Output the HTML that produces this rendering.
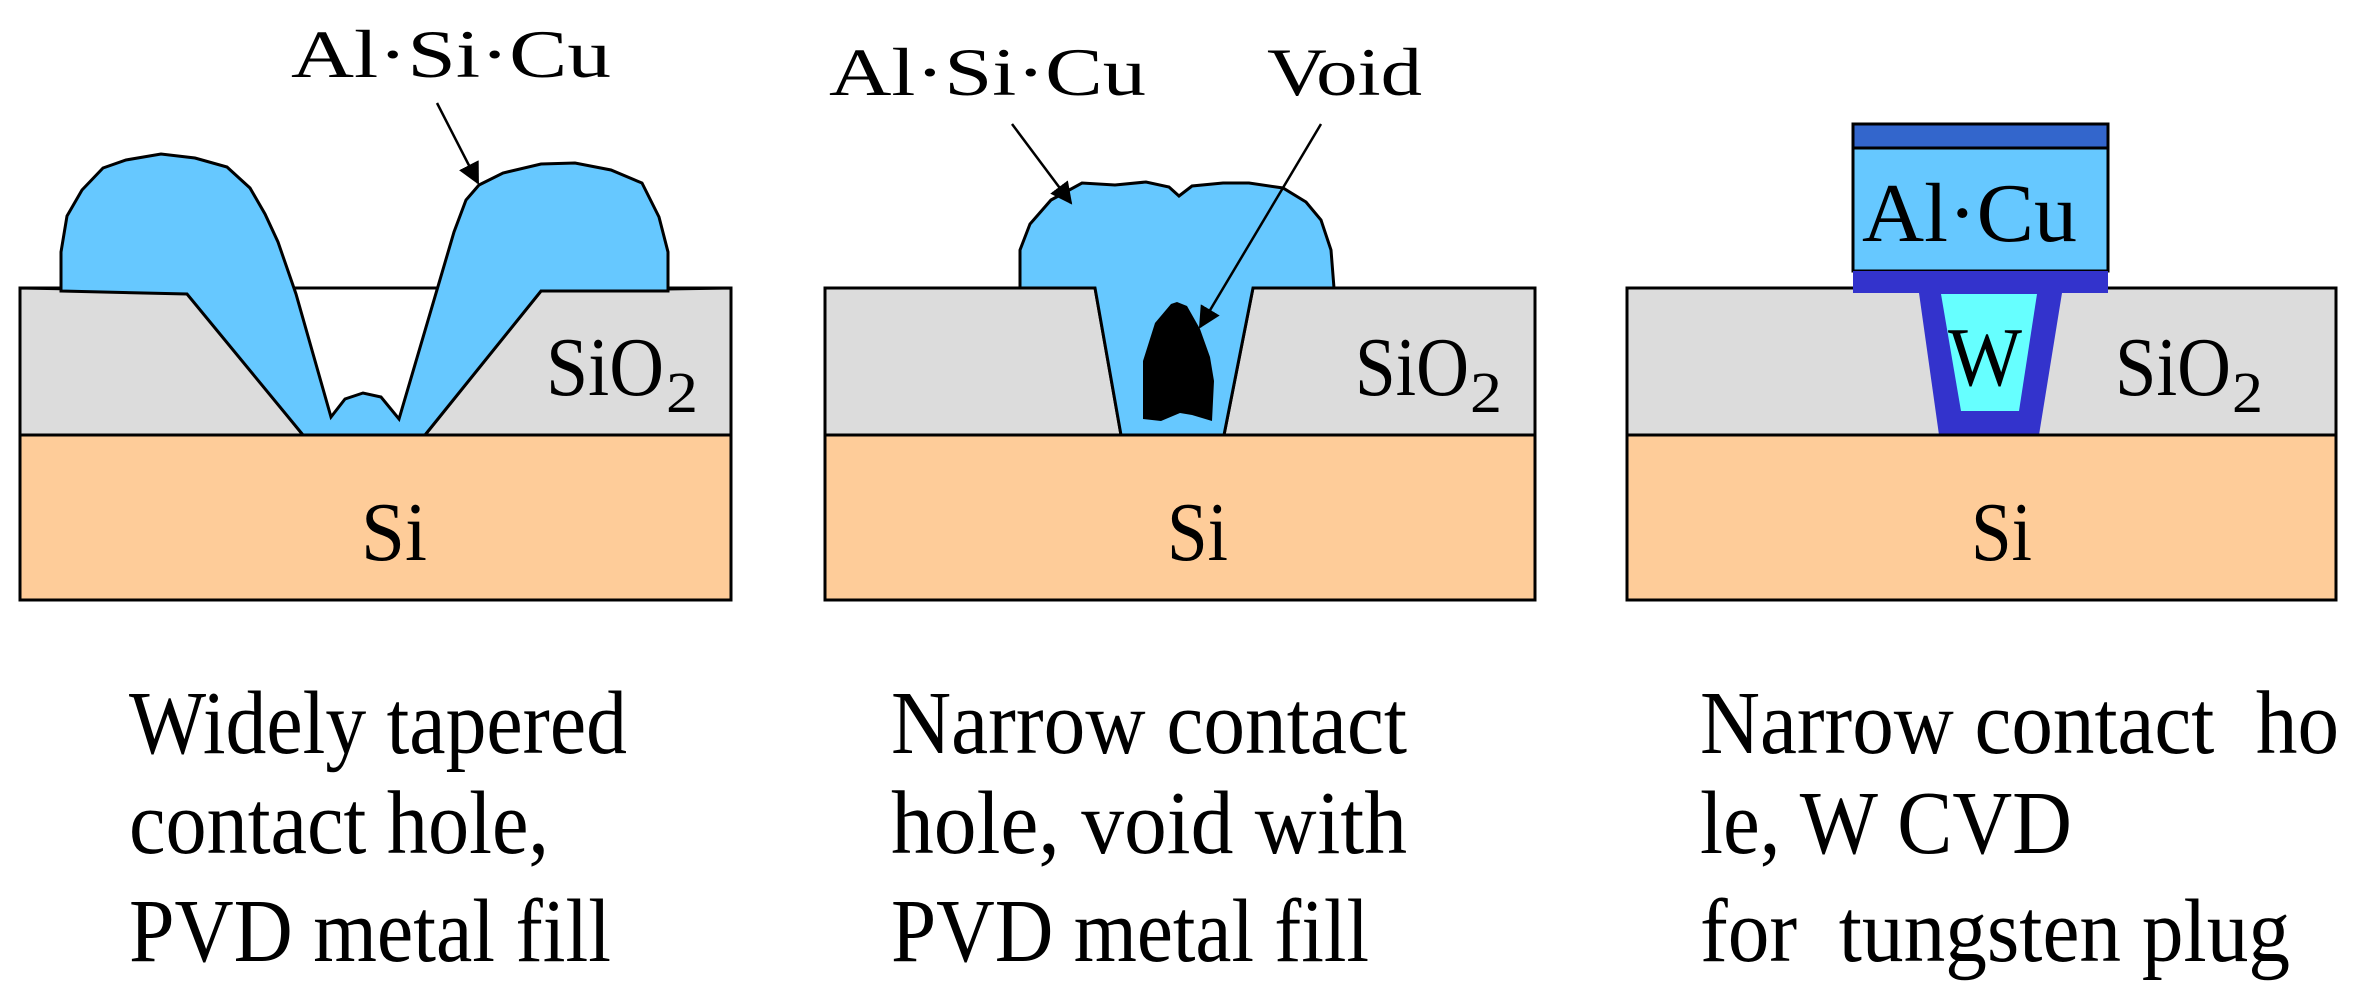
<!DOCTYPE html>
<html><head><meta charset="utf-8"><style>html,body{margin:0;padding:0;background:#fff}svg{display:block}</style></head>
<body>
<svg width="2367" height="1000" viewBox="0 0 2367 1000" xmlns="http://www.w3.org/2000/svg" fill="#000" style="font-family:'Liberation Serif','Times New Roman','DejaVu Serif',serif">
<defs>
<marker id="ah" markerWidth="22" markerHeight="22" refX="20" refY="11" orient="auto" markerUnits="userSpaceOnUse" viewBox="0 0 22 22">
<path d="M0,0 L22,11 L0,22 z" fill="#000"/></marker>
</defs>
<g stroke="#000" stroke-width="3" stroke-linejoin="miter">
<rect x="20" y="435" width="711" height="165" fill="#fecc99"/>
<polygon points="20,288 187,291 303,435 20,435" fill="#dcdcdc"/>
<polygon points="541,291 731,288 731,435 425,435" fill="#dcdcdc"/>
<line x1="20" y1="288" x2="731" y2="288"/>
<polygon fill="#66c8ff" points="61,291 187,294 303,435 425,435 541,291 668,291 668,252 659,217 642,183 611,170 575,163 541,164 503,173 479,185 466,200 454,232 399,419 381,397 363,393 345,399 331,417 296,294 278,242 265,214 250,188 227,167 195,158 161,154 126,160 103,168 82,190 67,216 61,252"/>
<line x1="437" y1="103" x2="478" y2="183" marker-end="url(#ah)" stroke-width="2.5"/>
<rect x="825" y="435" width="710" height="165" fill="#fecc99"/>
<polygon points="825,288 1095,288 1121,435 825,435" fill="#dcdcdc"/>
<polygon points="1253,288 1535,288 1535,435 1224,435" fill="#dcdcdc"/>
<polygon fill="#66c8ff" points="1020,288 1020,250 1030,224 1051,200 1082,183 1115,185 1146,182 1169,187 1179,196 1192,186 1223,183 1249,183 1283,188 1306,202 1321,220 1331,250 1334,288 1253,288 1224,435 1121,435 1095,288"/>
<polygon fill="#000" stroke="none" points="1177,302 1187,306 1200,329 1210,357 1214,381 1212,421 1192,415 1180,413 1161,421 1143,419 1143,361 1155,323 1171,304"/>
<line x1="1012" y1="124" x2="1071" y2="203" marker-end="url(#ah)" stroke-width="2.5"/>
<line x1="1321" y1="124" x2="1200" y2="327" marker-end="url(#ah)" stroke-width="2.5"/>
<rect x="1627" y="435" width="709" height="165" fill="#fecc99"/>
<rect x="1627" y="288" width="709" height="147" fill="#dcdcdc"/>
<rect x="1853" y="124" width="255" height="24" fill="#3366cc"/>
<rect x="1853" y="148" width="255" height="123" fill="#66c8ff"/>
</g>
<rect x="1853" y="271" width="255" height="22" fill="#3333cc"/>
<polygon points="1919,293 2062,293 2039,435 1939,435" fill="#3333cc"/>
<polygon points="1941,294 2037,294 2019,411 1961,411" fill="#66ffff"/>
<line x1="1627" y1="435" x2="2336" y2="435" stroke="#000" stroke-width="3"/>

<g font-size="68">
<text x="291" y="77" textLength="320" lengthAdjust="spacingAndGlyphs">Al·Si·Cu</text>
<text x="829" y="95" textLength="317" lengthAdjust="spacingAndGlyphs">Al·Si·Cu</text>
<text x="1267" y="95" textLength="155" lengthAdjust="spacingAndGlyphs">Void</text>
</g>
<g font-size="84">
<text x="546" y="395" textLength="118" lengthAdjust="spacingAndGlyphs">SiO</text><text x="666" y="412" font-size="58" textLength="32" lengthAdjust="spacingAndGlyphs">2</text>
<text x="1355" y="395" textLength="114" lengthAdjust="spacingAndGlyphs">SiO</text><text x="1470" y="412" font-size="58" textLength="32" lengthAdjust="spacingAndGlyphs">2</text>
<text x="2115" y="395" textLength="116" lengthAdjust="spacingAndGlyphs">SiO</text><text x="2232" y="412" font-size="58" textLength="31" lengthAdjust="spacingAndGlyphs">2</text>
<text x="361" y="560" textLength="66" lengthAdjust="spacingAndGlyphs">Si</text>
<text x="1167" y="560" textLength="61" lengthAdjust="spacingAndGlyphs">Si</text>
<text x="1971" y="560" textLength="61" lengthAdjust="spacingAndGlyphs">Si</text>
<text x="1862" y="241" textLength="215" lengthAdjust="spacingAndGlyphs">Al·Cu</text>
<text x="1948" y="385" textLength="74" lengthAdjust="spacingAndGlyphs">W</text>
</g>
<g font-size="90">
<text x="129" y="753" textLength="498" lengthAdjust="spacingAndGlyphs">Widely tapered</text>
<text x="129" y="853" textLength="420" lengthAdjust="spacingAndGlyphs">contact hole,</text>
<text x="129" y="961" textLength="482" lengthAdjust="spacingAndGlyphs">PVD metal fill</text>
<text x="891" y="753" textLength="516" lengthAdjust="spacingAndGlyphs">Narrow contact</text>
<text x="891" y="853" textLength="516" lengthAdjust="spacingAndGlyphs">hole, void with</text>
<text x="891" y="961" textLength="478" lengthAdjust="spacingAndGlyphs">PVD metal fill</text>
<text x="1700" y="753" textLength="639" lengthAdjust="spacingAndGlyphs" xml:space="preserve">Narrow contact  ho</text>
<text x="1700" y="853" textLength="372" lengthAdjust="spacingAndGlyphs">le, W CVD</text>
<text x="1700" y="961" textLength="590" lengthAdjust="spacingAndGlyphs" xml:space="preserve">for  tungsten plug</text>
</g>
</svg>
</body></html>
